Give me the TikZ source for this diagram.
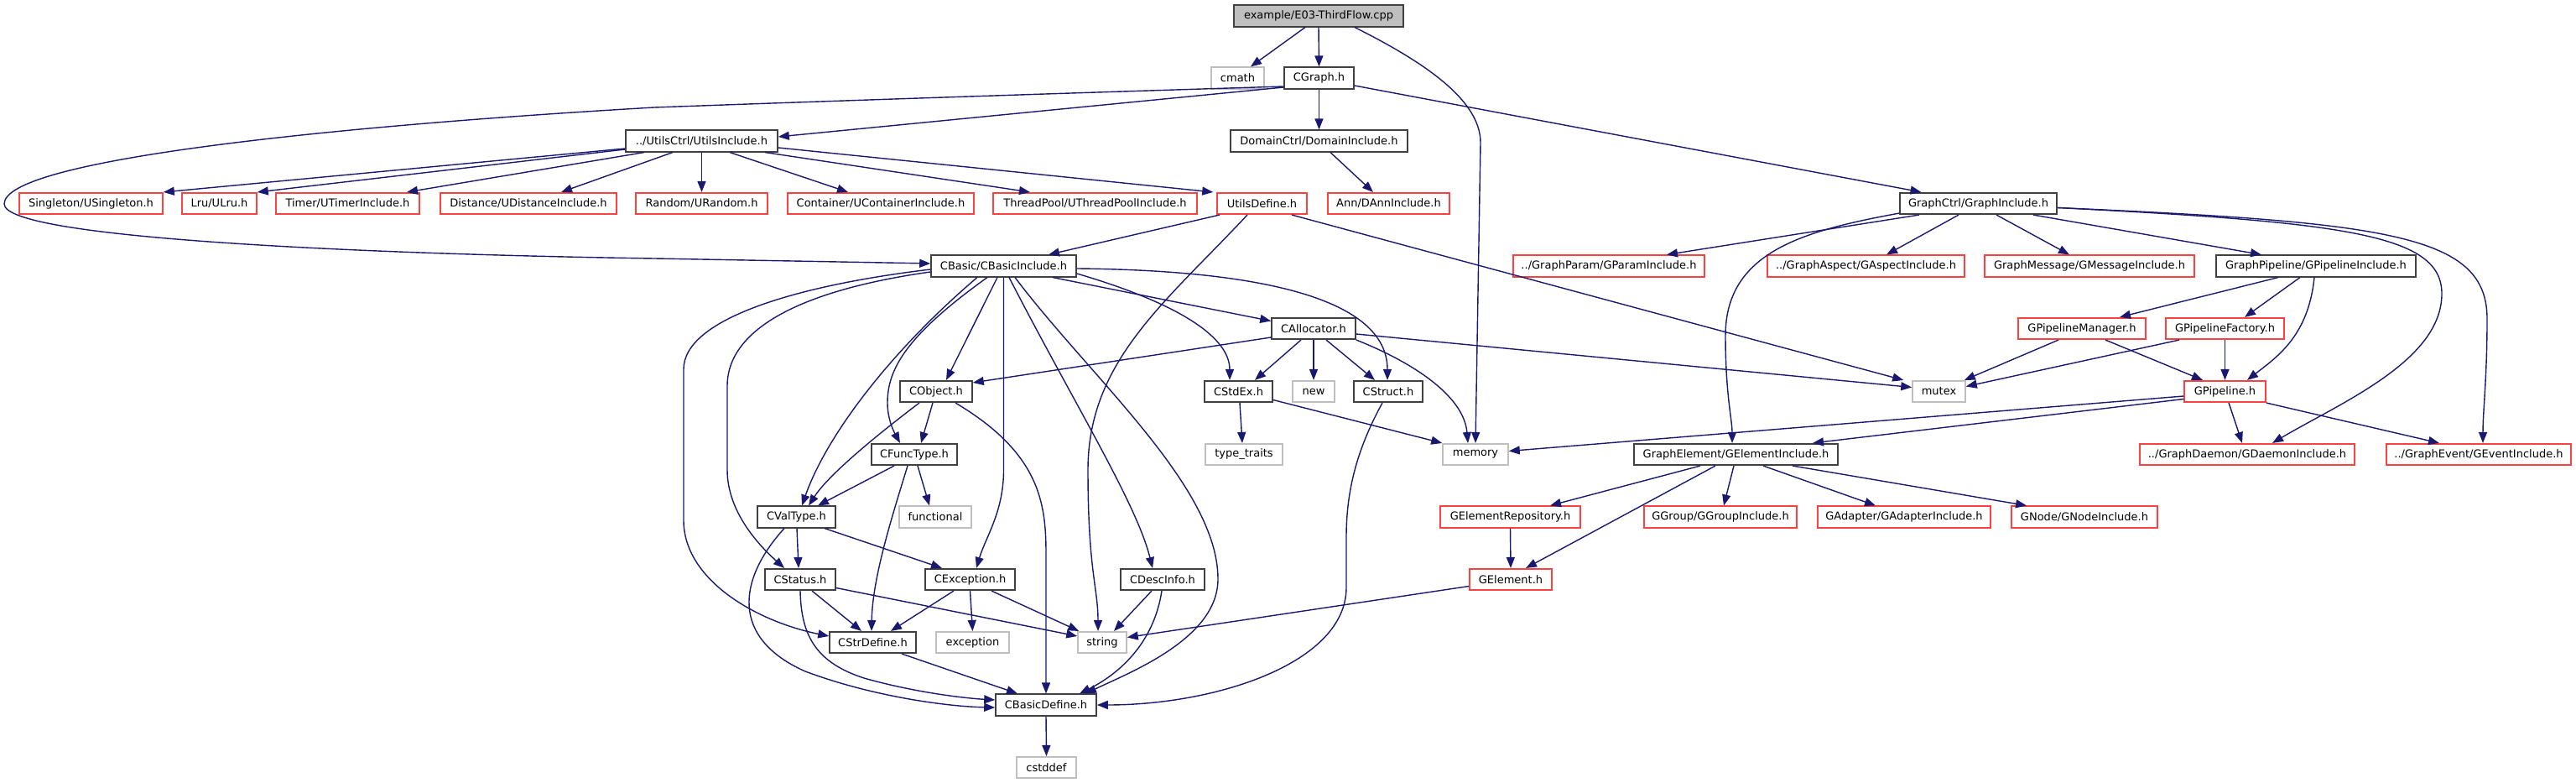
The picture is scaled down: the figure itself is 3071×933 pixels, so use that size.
\documentclass[tikz,border=0pt]{standalone}
\usepackage{fontspec}
\setmainfont{DejaVu Sans}
\usetikzlibrary{arrows.meta}
\definecolor{edgec}{RGB}{25,25,112}
\definecolor{redc}{RGB}{255,64,64}
\definecolor{grayb}{RGB}{191,191,191}
\definecolor{darkb}{RGB}{64,64,64}
\tikzset{
  nbox/.style={draw=darkb, line width=1.6pt, fill=white, inner sep=0pt, minimum height=25.5pt, font=\fontsize{13}{15}\selectfont},
  rbox/.style={nbox, draw=redc},
  sbox/.style={nbox, draw=grayb},
  rootbox/.style={nbox, fill=grayb},
  conn/.style={draw=edgec, line width=1.4pt, -{Triangle[length=13pt,width=10pt]}}
}
\begin{document}
\begin{tikzpicture}[x=1pt,y=-1pt]
\useasboundingbox (0,0) rectangle (3071,933);
% row 1
\node[rootbox, minimum width=202pt] (root) at (1572,19) {example/E03-ThirdFlow.cpp};
% row 2
\node[sbox, minimum width=63pt] (cmath) at (1475.5,93) {cmath};
\node[nbox, minimum width=83pt] (cgraph) at (1572.5,93) {CGraph.h};
% row 3
\node[nbox, minimum width=181pt] (utils) at (836.5,168) {../UtilsCtrl/UtilsInclude.h};
\node[nbox, minimum width=211pt] (domain) at (1572.5,168) {DomainCtrl/DomainInclude.h};
% row 4
\node[rbox, minimum width=171pt] (singleton) at (108.5,242.5) {Singleton/USingleton.h};
\node[rbox, minimum width=89pt] (lru) at (261.5,242.5) {Lru/ULru.h};
\node[rbox, minimum width=171pt] (timer) at (414.5,242.5) {Timer/UTimerInclude.h};
\node[rbox, minimum width=210pt] (distance) at (630,242.5) {Distance/UDistanceInclude.h};
\node[rbox, minimum width=157pt] (random) at (836.5,242.5) {Random/URandom.h};
\node[rbox, minimum width=222pt] (container) at (1050,242.5) {Container/UContainerInclude.h};
\node[rbox, minimum width=243pt] (threadpool) at (1305.5,242.5) {ThreadPool/UThreadPoolInclude.h};
\node[rbox, minimum width=107pt] (utilsdef) at (1504.5,242.5) {UtilsDefine.h};
\node[rbox, minimum width=145pt] (dann) at (1655.5,242.5) {Ann/DAnnInclude.h};
\node[nbox, minimum width=187pt] (graphinc) at (2358.5,242.5) {GraphCtrl/GraphInclude.h};
% row 5
\node[nbox, minimum width=173pt] (cbasic) at (1196.5,317) {CBasic/CBasicInclude.h};
\node[rbox, minimum width=228pt] (gparam) at (1918,317) {../GraphParam/GParamInclude.h};
\node[rbox, minimum width=235pt] (gaspect) at (2224.5,317) {../GraphAspect/GAspectInclude.h};
\node[rbox, minimum width=250pt] (gmessage) at (2491,317) {GraphMessage/GMessageInclude.h};
\node[nbox, minimum width=238pt] (gpipeinc) at (2761,317) {GraphPipeline/GPipelineInclude.h};
% row 6
\node[nbox, minimum width=100pt] (calloc) at (1566,391.5) {CAllocator.h};
\node[rbox, minimum width=152pt] (gpmgr) at (2482,391.5) {GPipelineManager.h};
\node[rbox, minimum width=141pt] (gpfac) at (2652.5,391.5) {GPipelineFactory.h};
% row 7
\node[nbox, minimum width=86pt] (cobject) at (1116,466.5) {CObject.h};
\node[nbox, minimum width=81pt] (cstdex) at (1476.5,466.5) {CStdEx.h};
\node[sbox, minimum width=50pt] (newh) at (1566,466.5) {new};
\node[nbox, minimum width=82pt] (cstruct) at (1655,466.5) {CStruct.h};
\node[sbox, minimum width=63pt] (mutex) at (2311.5,466.5) {mutex};
\node[rbox, minimum width=97pt] (gpipe) at (2652.5,466.5) {GPipeline.h};
% row 8
\node[nbox, minimum width=102pt] (cfunc) at (1090,541.5) {CFuncType.h};
\node[sbox, minimum width=92pt] (typetraits) at (1483,541.5) {type\_traits};
\node[sbox, minimum width=78pt] (memory) at (1759,541.5) {memory};
\node[nbox, minimum width=243pt] (gelinc) at (2069.5,541.5) {GraphElement/GElementInclude.h};
\node[rbox, minimum width=256pt] (gdaemon) at (2679,541.5) {../GraphDaemon/GDaemonInclude.h};
\node[rbox, minimum width=220pt] (gevent) at (2955,541.5) {../GraphEvent/GEventInclude.h};
% row 9
\node[nbox, minimum width=93pt] (cvaltype) at (949.5,616) {CValType.h};
\node[sbox, minimum width=86pt] (functional) at (1115,616) {functional};
\node[rbox, minimum width=167pt] (gelrepo) at (1800.5,616) {GElementRepository.h};
\node[rbox, minimum width=182pt] (ggroup) at (2051,616) {GGroup/GGroupInclude.h};
\node[rbox, minimum width=206pt] (gadapter) at (2270,616) {GAdapter/GAdapterInclude.h};
\node[rbox, minimum width=174pt] (gnode) at (2485,616) {GNode/GNodeInclude.h};
% row 10
\node[nbox, minimum width=84pt] (cstatus) at (954,690.5) {CStatus.h};
\node[nbox, minimum width=107pt] (cexcept) at (1156.5,690.5) {CException.h};
\node[nbox, minimum width=100pt] (cdesc) at (1386,690.5) {CDescInfo.h};
\node[rbox, minimum width=98pt] (gelement) at (1801,690.5) {GElement.h};
% row 11
\node[nbox, minimum width=103pt] (cstrdef) at (1040.5,765.5) {CStrDefine.h};
\node[sbox, minimum width=87pt] (exception) at (1159.5,765.5) {exception};
\node[sbox, minimum width=58pt] (stringh) at (1314,765.5) {string};
% row 12
\node[nbox, minimum width=120pt] (cbasicdef) at (1247,840) {CBasicDefine.h};
% row 13
\node[sbox, minimum width=71pt] (cstddef) at (1247.5,914.5) {cstddef};

% ---- edges from root
\draw[conn] ([xshift=-16pt]root.south) -- ([xshift=15.5pt]cmath.north);
\draw[conn] (root.south) -- (cgraph.north);
\draw[conn] ([xshift=43pt]root.south) .. controls (1700,75) and (1765,120) .. (1765,170) -- (memory.north);
% ---- CGraph
\draw[conn] ([yshift=-11pt]cgraph.west) -- ([yshift=5pt]utils.east);
\draw[conn] ([yshift=-10pt]cgraph.west) .. controls (1300,110) and (1000,120) .. (780,128) .. controls (400,150) and (5,190) .. (5,243) .. controls (5,285) and (450,303) .. (780,308) -- ([yshift=3pt]cbasic.west);
\draw[conn] (cgraph.south) -- (domain.north);
\draw[conn] ([yshift=-9pt]cgraph.east) -- ([xshift=-68pt]graphinc.north);
% ---- UtilsInclude
\draw[conn] ([yshift=-9pt]utils.west) -- (singleton.north east);
\draw[conn] ([yshift=-10pt]utils.west) -- (lru.north east);
\draw[conn] ([xshift=-68.5pt]utils.south) -- ([xshift=70.5pt]timer.north);
\draw[conn] ([xshift=-34.5pt]utils.south) -- ([xshift=39pt]distance.north);
\draw[conn] (utils.south) -- (random.north);
\draw[conn] ([xshift=33.5pt]utils.south) -- ([xshift=-39pt]container.north);
\draw[conn] ([xshift=75.5pt]utils.south) -- ([xshift=-77.5pt]threadpool.north);
\draw[conn] ([yshift=-8pt]utils.east) -- ([xshift=-4pt]utilsdef.north west);
% ---- Domain
\draw[conn] ([xshift=13.5pt]domain.south) -- ([xshift=-18.5pt]dann.north);
% ---- UtilsDefine
\draw[conn] ([xshift=-50.5pt]utilsdef.south) -- ([xshift=53.5pt]cbasic.north);
\draw[conn] ([xshift=-17.5pt]utilsdef.south) .. controls (1390,360) and (1297,430) .. (1297,560) .. controls (1297,680) and (1309,700) .. ([xshift=-5pt]stringh.north);
\draw[conn] ([xshift=35.5pt]utilsdef.south) -- ([xshift=-10pt]mutex.north west);
% ---- GraphInclude
\draw[conn] ([xshift=-70.5pt]graphinc.south) -- ([xshift=69pt]gparam.north);
\draw[conn] ([xshift=-23.5pt]graphinc.south) -- ([xshift=24.5pt]gaspect.north);
\draw[conn] ([xshift=21.5pt]graphinc.south) -- ([xshift=-24pt]gmessage.north);
\draw[conn] ([xshift=65.5pt]graphinc.south) -- ([xshift=-65pt]gpipeinc.north);
\draw[conn] ([yshift=2pt]graphinc.south west) .. controls (2150,275) and (2057,300) .. (2057,400) .. controls (2057,470) and (2065,500) .. ([xshift=-4.5pt]gelinc.north);
\draw[conn] ([yshift=-5pt]graphinc.east) .. controls (2800,265) and (2911,280) .. (2911,350) .. controls (2911,430) and (2790,480) .. ([xshift=30pt]gdaemon.north);
\draw[conn] ([yshift=-5pt]graphinc.east) .. controls (2850,265) and (2965,280) .. (2965,380) .. controls (2965,450) and (2960,490) .. ([xshift=5pt]gevent.north);
% ---- GPipelineInclude
\draw[conn] ([xshift=-45pt]gpipeinc.south) -- ([xshift=45pt]gpmgr.north);
\draw[conn] ([xshift=-19pt]gpipeinc.south) -- ([xshift=23.5pt]gpfac.north);
\draw[conn] ([xshift=-2pt]gpipeinc.south) .. controls (2752,400) and (2715,425) .. ([xshift=26.5pt]gpipe.north);
% ---- GPipelineManager / Factory
\draw[conn] ([xshift=-28pt]gpmgr.south) -- ([xshift=-2pt]mutex.north east);
\draw[conn] ([xshift=28pt]gpmgr.south) -- ([xshift=-26.5pt]gpipe.north);
\draw[conn] ([xshift=-54.5pt]gpfac.south) -- ([yshift=6pt]mutex.east);
\draw[conn] (gpfac.south) -- (gpipe.north);
% ---- GPipeline
\draw[conn] ([yshift=-5.5pt]gpipe.west) -- ([yshift=4pt]memory.east);
\draw[conn] ([yshift=-9pt]gpipe.west) -- ([xshift=91.5pt]gelinc.north);
\draw[conn] ([xshift=4.5pt]gpipe.south) -- ([xshift=-6pt]gdaemon.north);
\draw[conn] (gpipe.south east) -- ([xshift=-47pt]gevent.north);
% ---- GElementInclude
\draw[conn] ([xshift=-42.5pt]gelinc.south) -- ([xshift=47.5pt]gelrepo.north);
\draw[conn] ([xshift=-24.5pt]gelinc.south) -- ([xshift=18pt]gelement.north);
\draw[conn] ([xshift=-2.5pt]gelinc.south) -- ([xshift=4pt]ggroup.north);
\draw[conn] ([xshift=32.5pt]gelinc.south) -- ([xshift=-34pt]gadapter.north);
\draw[conn] ([xshift=67.5pt]gelinc.south) -- ([xshift=-69pt]gnode.north);
\draw[conn] (gelrepo.south) -- (gelement.north);
\draw[conn] ([yshift=-8pt]gelement.west) -- ([yshift=6pt]stringh.east);
% ---- CBasicInclude
\draw[conn] ([xshift=58.5pt]cbasic.south) -- ([yshift=9pt]calloc.west);
\draw[conn] ([yshift=-9pt]cbasic.east) .. controls (1400,360) and (1466,400) .. ([xshift=-10.5pt]cstdex.north);
\draw[conn] ([yshift=-3pt]cbasic.east) .. controls (1500,322) and (1654,355) .. ([xshift=-1pt]cstruct.north);
\draw[conn] ([xshift=-7.5pt]cbasic.south) -- ([xshift=12pt]cobject.north);
\draw[conn] ([xshift=-19.5pt]cbasic.south) .. controls (1080,400) and (1058,440) .. (1058,480) .. controls (1058,500) and (1066,515) .. ([xshift=-17pt]cfunc.north);
\draw[conn] ([xshift=-31.5pt]cbasic.south) .. controls (1060,420) and (985,520) .. ([xshift=6.5pt]cvaltype.north);
\draw[conn] (cbasic.south) -- (1196.5,560) .. controls (1196.5,610) and (1175,640) .. ([xshift=7.5pt]cexcept.north);
\draw[conn] ([xshift=6.5pt]cbasic.south) .. controls (1280,480) and (1355,600) .. ([xshift=-12pt]cdesc.north);
\draw[conn] ([xshift=13.5pt]cbasic.south) .. controls (1300,450) and (1452,580) .. (1452,690) .. controls (1452,760) and (1350,800) .. ([xshift=47pt]cbasicdef.north);
\draw[conn] ([yshift=-4pt]cbasic.west) .. controls (950,340) and (815,380) .. (815,440) -- (815,620) .. controls (815,690) and (900,740) .. ([yshift=7.5pt]cstrdef.west);
\draw[conn] ([yshift=-7pt]cbasic.west) .. controls (960,345) and (867,390) .. (867,460) -- (867,560) .. controls (867,610) and (905,650) .. ([xshift=-19pt]cstatus.north);
% ---- CAllocator
\draw[conn] ([yshift=-10.5pt]calloc.west) -- ([yshift=-3pt]cobject.north east);
\draw[conn] ([xshift=-15pt]calloc.south) -- ([xshift=19.5pt]cstdex.north);
\draw[conn] (calloc.south) -- (newh.north);
\draw[conn] ([xshift=15pt]calloc.south) -- ([xshift=-16pt]cstruct.north);
\draw[conn] (calloc.south east) .. controls (1680,430) and (1745,470) .. ([xshift=-9pt]memory.north);
\draw[conn] ([yshift=-6.5pt]calloc.east) -- ([yshift=5pt]mutex.west);
% ---- CObject
\draw[conn] ([xshift=-4pt]cobject.south) -- ([xshift=8pt]cfunc.north);
\draw[conn] ([xshift=-20pt]cobject.south) .. controls (1030,530) and (985,570) .. ([xshift=14.5pt]cvaltype.north);
\draw[conn] ([xshift=23pt]cobject.south) .. controls (1240,540) and (1247,600) .. (1247,660) -- (cbasicdef.north);
% ---- CStdEx
\draw[conn] ([xshift=1.5pt]cstdex.south) -- ([xshift=-2pt]typetraits.north);
\draw[conn] ([yshift=-10pt]cstdex.east) -- (memory.north west);
% ---- CStruct
\draw[conn] ([xshift=-7pt]cstruct.south) .. controls (1615,540) and (1605,590) .. (1605,640) -- (1605,700) .. controls (1605,790) and (1450,840) .. (cbasicdef.east);
% ---- CFuncType
\draw[conn] ([xshift=-24pt]cfunc.south) -- ([xshift=25.5pt]cvaltype.north);
\draw[conn] ([xshift=4pt]cfunc.south) -- ([xshift=-7pt]functional.north);
\draw[conn] ([xshift=-8pt]cfunc.south) .. controls (1062,620) and (1040,690) .. ([xshift=-1.5pt]cstrdef.north);
% ---- CValType
\draw[conn] ([xshift=0.5pt]cvaltype.south) -- ([xshift=-2pt]cstatus.north);
\draw[conn] ([xshift=33.5pt]cvaltype.south) -- ([xshift=-33.5pt]cexcept.north);
\draw[conn] ([xshift=-14.5pt]cvaltype.south) .. controls (880,690) and (870,760) .. (960,800) .. controls (1040,830) and (1130,842) .. ([yshift=-3pt]cbasicdef.west);
% ---- CStatus
\draw[conn] ([xshift=14pt]cstatus.south) -- ([xshift=-13.5pt]cstrdef.north);
\draw[conn] ([yshift=-10pt]cstatus.east) -- ([yshift=7.5pt]stringh.west);
\draw[conn] (cstatus.south) .. controls (955,760) and (975,790) .. (1030,808) .. controls (1090,825) and (1150,832) .. ([yshift=6pt]cbasicdef.west);
% ---- CException
\draw[conn] ([xshift=-19.5pt]cexcept.south) -- ([xshift=21.5pt]cstrdef.north);
\draw[conn] (cexcept.south) -- (exception.north);
\draw[conn] ([xshift=25.5pt]cexcept.south) -- ([xshift=2pt]stringh.north west);
% ---- CDescInfo
\draw[conn] ([xshift=-13pt]cdesc.south) -- ([xshift=14pt]stringh.north);
\draw[conn] ([xshift=-1pt]cdesc.south) .. controls (1375,770) and (1330,805) .. ([xshift=40pt]cbasicdef.north);
% ---- CStrDefine / CBasicDefine
\draw[conn] ([xshift=34.5pt]cstrdef.south) -- ([xshift=-34pt]cbasicdef.north);
\draw[conn] (cbasicdef.south) -- (cstddef.north);
\end{tikzpicture}
\end{document}
